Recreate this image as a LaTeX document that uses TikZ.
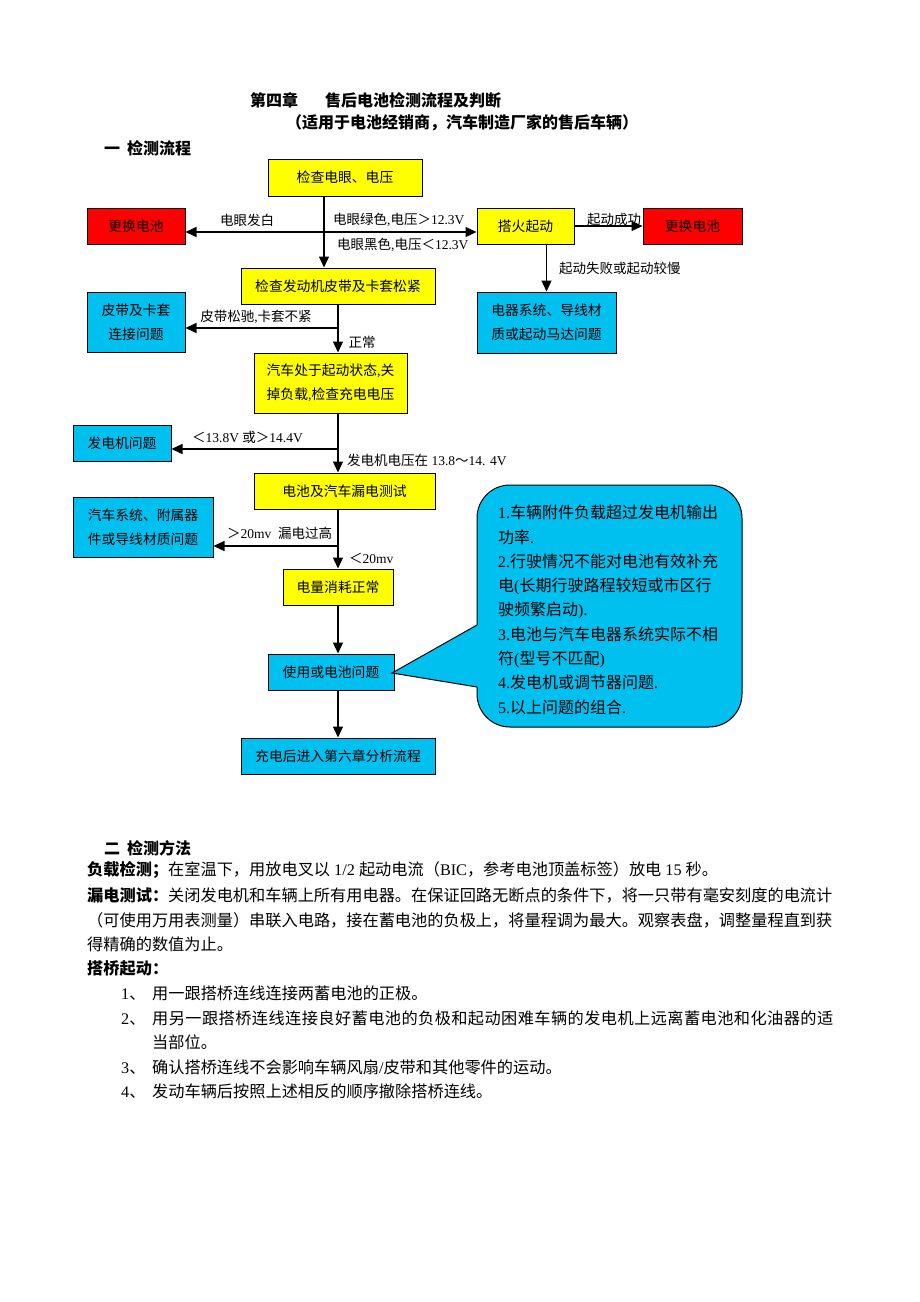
\documentclass[tikz,border=0pt]{standalone}
\usepackage{fontspec}
\setmainfont{Noto Sans CJK SC}
\newfontfamily\latinf{Liberation Serif}
\newfontfamily\lsb[LetterSpace=2.6]{Noto Sans CJK SC}
\newcommand\ltn[1]{{\latinf #1}}
\usetikzlibrary{arrows.meta}
\definecolor{yel}{RGB}{255,255,0}
\definecolor{redb}{RGB}{255,0,0}
\definecolor{blu}{RGB}{0,192,240}
\begin{document}
\begin{tikzpicture}[x=1pt,y=-1pt,
  box/.style={draw=black, line width=1pt, inner sep=0pt, align=center,
    font={\fontsize{13.8}{24}\selectfont}},
  ybox/.style={box, fill=yel},
  rbox/.style={box, fill=redb},
  bbox/.style={box, fill=blu},
  arr/.style={line width=1.2pt, -{Triangle[length=11pt,width=10pt]}},
  lab/.style={inner sep=0pt, font={\fontsize{13.5}{16}\selectfont}},
  body/.style={inner sep=0pt, anchor=west, font={\fontsize{16.2}{20}\selectfont}},
  callout/.style={fill=blu, draw=black, line width=1pt},
]
\fill[white] (0,0) rectangle (920,1302);
\useasboundingbox (0,0) rectangle (920,1302);

% titles
\node[body, font={\fontsize{16}{20}\selectfont\bfseries}] (h1) at (250,100) {第四章};
\node[body, font={\fontsize{16}{20}\selectfont\bfseries}] (h2) at (325,100) {售后电池检测流程及判断};
\node[inner sep=0pt, font={\fontsize{16}{20}\selectfont\bfseries}] (h3) at (462,123) {（适用于电池经销商，汽车制造厂家的售后车辆）};
\node[body, font={\fontsize{16}{20}\selectfont\bfseries}] (h4) at (104,148) {一\hspace{7pt}检测流程};

% flowchart nodes
\node[ybox, minimum width=154pt, minimum height=37pt] (b1) at (345,177.5) {检查电眼、电压};
\node[rbox, minimum width=98pt, minimum height=36pt] (r1) at (136,226) {更换电池};
\node[ybox, minimum width=97pt, minimum height=36pt] (jump) at (525.5,226) {搭火起动};
\node[rbox, minimum width=99pt, minimum height=36pt] (r2) at (692.5,226) {更换电池};
\node[bbox, minimum width=139pt, minimum height=61pt] (e1) at (546.5,322.5) {电器系统、导线材\\质或起动马达问题};
\node[ybox, minimum width=194pt, minimum height=36pt] (b2) at (338,286) {检查发动机皮带及卡套松紧};
\node[bbox, minimum width=98pt, minimum height=60pt] (p1) at (136,322) {皮带及卡套\\连接问题};
\node[ybox, minimum width=153pt, minimum height=60pt] (b3) at (330.5,383) {汽车处于起动状态\ltn{,}关\\掉负载\ltn{,}检查充电电压};
\node[bbox, minimum width=98pt, minimum height=36pt] (g1) at (122,443) {发电机问题};
\node[ybox, minimum width=181pt, minimum height=36pt] (b4) at (344.5,491) {电池及汽车漏电测试};
\node[bbox, minimum width=140pt, minimum height=60pt] (s1) at (143,527) {汽车系统、附属器\\件或导线材质问题};
\node[ybox, minimum width=110pt, minimum height=36pt] (b5) at (338,587) {电量消耗正常};
\node[bbox, minimum width=126pt, minimum height=36pt] (b6) at (331,672) {使用或电池问题};
\node[bbox, minimum width=194pt, minimum height=36pt] (b7) at (338,756) {充电后进入第六章分析流程};

% connectors
\coordinate (v1) at (324,232);
\draw[arr] (v1 |- b1.south) -- (v1 |- b2.north);
\draw[arr] (v1) -- (r1.east |- v1);
\draw[arr] (v1) -- (jump.west |- v1);
\draw[arr] (jump.east) -- (r2.west);
\draw[arr] (e1.north |- jump.south) -- (e1.north);

\coordinate (v2) at (338,328);
\draw[arr] (v2 |- b2.south) -- (v2 |- b3.north);
\draw[arr] (v2) -- (v2 -| p1.east);

\coordinate (v3) at (338,449);
\draw[arr] (v3 |- b3.south) -- (v3 |- b4.north);
\draw[arr] (v3) -- (v3 -| g1.east);

\coordinate (v4) at (338,546);
\draw[arr] (v4 |- b4.south) -- (v4 |- b5.north);
\draw[arr] (v4) -- (v4 -| s1.east);

\draw[arr] (v4 |- b5.south) -- (v4 |- b6.north);
\draw[arr] (v4 |- b6.south) -- (v4 |- b7.north);

% connector labels
\node[lab] (l1) at (247,220) {电眼发白};
\node[lab, anchor=west] (l2) at (333,220) {电眼绿色\ltn{,}电压＞\ltn{12.3V}};
\node[lab, anchor=west] (l3) at (337,245) {电眼黑色\ltn{,}电压＜\ltn{12.3V}};
\node[lab] (l4) at (614,219) {起动成功};
\node[lab, anchor=west] (l5) at (559,268) {起动失败或起动较慢};
\node[lab] (l6) at (256,317) {皮带松驰\ltn{,}卡套不紧};
\node[lab] (l7) at (362,342) {正常};
\node[lab, anchor=west] (l8) at (192,437) {＜\ltn{13.8V }或＞\ltn{14.4V}};
\node[lab, anchor=west] (l9) at (347,460) {发电机电压在\ltn{ 13.8}～\ltn{14. 4V}};
\node[lab, anchor=west] (l10) at (227,533) {＞\ltn{20mv\ \ }漏电过高};
\node[lab, anchor=west] (l11) at (349,558) {＜\ltn{20mv}};

% callout
\coordinate (tip) at (392,673);
\coordinate (ca) at (477,625);
\coordinate (cb) at (477,687);
\draw[callout, rounded corners=33pt] (477,485) rectangle (742,727);
\fill[blu] (tip) -- (ca) -- ([xshift=2pt]ca) -- ([xshift=2pt]cb) -- (cb) -- cycle;
\draw[line width=1pt, line join=miter] (ca) -- (tip) -- (cb);
\node[inner sep=0pt, anchor=north west, align=left, font={\fontsize{16}{24.3}\selectfont}] (ct) at (498,505) {%
\ltn{1.}车辆附件负载超过发电机输出\\
功率\ltn{.}\\
\ltn{2.}行驶情况不能对电池有效补充\\
电\ltn{(}长期行驶路程较短或市区行\\
驶频繁启动\ltn{).}\\
\ltn{3.}电池与汽车电器系统实际不相\\
符\ltn{(}型号不匹配\ltn{)}\\
\ltn{4.}发电机或调节器问题\ltn{.}\\
\ltn{5.}以上问题的组合\ltn{.}};

% section two
\node[body, font={\fontsize{16}{20}\selectfont\bfseries}] (t0) at (104,848) {二\hspace{7pt}检测方法};
\node[body] (t1) at (87,870) {{\bfseries 负载检测；}在室温下，用放电叉以\ltn{ 1/2 }起动电流（\ltn{BIC}，参考电池顶盖标签）放电\ltn{ 15 }秒。};
\node[body] (t2) at (87,895) {{\bfseries 漏电测试：}关闭发电机和车辆上所有用电器。在保证回路无断点的条件下，将一只带有毫安刻度的电流计};
\node[body] (t3) at (87,920) {（可使用万用表测量）串联入电路，接在蓄电池的负极上，将量程调为最大。观察表盘，调整量程直到获};
\node[body] (t4) at (87,944) {得精确的数值为止。};
\node[body] (t5) at (87,968) {{\bfseries 搭桥起动：}};
\node[body] (t6) at (121,993) {\makebox[31pt][l]{\ltn{1}、}用一跟搭桥连线连接两蓄电池的正极。};
\node[body] (t7) at (121,1018) {\makebox[31pt][l]{\ltn{2}、}{\lsb 用另一跟搭桥连线连接良好蓄电池的负极和起动困难车辆的发电机上远离蓄电池和化油器的适}};
\node[body] (t8) at (152,1042) {当部位。};
\node[body] (t9) at (121,1067) {\makebox[31pt][l]{\ltn{3}、}确认搭桥连线不会影响车辆风扇\ltn{/}皮带和其他零件的运动。};
\node[body] (t10) at (121,1091) {\makebox[31pt][l]{\ltn{4}、}发动车辆后按照上述相反的顺序撤除搭桥连线。};
\end{tikzpicture}
\end{document}
